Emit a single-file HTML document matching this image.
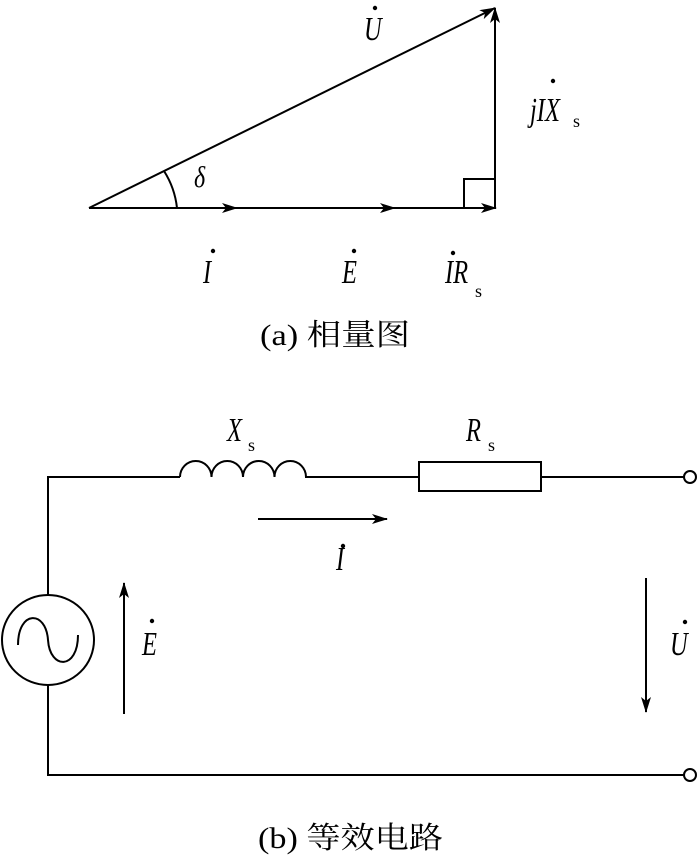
<!DOCTYPE html>
<html><head><meta charset="utf-8"><style>
html,body{margin:0;padding:0;background:#fff;}
svg{display:block}
</style></head><body>
<svg width="700" height="856" viewBox="0 0 700 856" xmlns="http://www.w3.org/2000/svg" font-family="Liberation Serif, Noto Serif CJK SC, serif">
<defs>
<marker id="a" viewBox="0 0 16 10" refX="15" refY="5" markerWidth="16" markerHeight="10" markerUnits="userSpaceOnUse" orient="auto">
<path d="M0,0 L16,5 L0,10 L4,5 Z" fill="#000"/></marker>
</defs>
<g stroke="#000" stroke-width="2" fill="none">
<line x1="89" y1="208" x2="237" y2="208" marker-end="url(#a)"/>
<line x1="235" y1="208" x2="395" y2="208" marker-end="url(#a)"/>
<line x1="393" y1="208" x2="496" y2="208" marker-end="url(#a)"/>
<line x1="495" y1="208" x2="495" y2="8" marker-end="url(#a)"/>
<line x1="89" y1="208" x2="495" y2="8" marker-end="url(#a)"/>
<polyline points="464,208 464,179 495,179"/>
<path d="M164,171 A86,86 0 0 1 177,208"/>
<polyline points="48,595 48,477 180,477"/>
<path d="M180,477 a15.75,16 0 0 1 31.5,0 a15.75,16 0 0 1 31.5,0 a15.75,16 0 0 1 31.5,0 a15.75,16 0 0 1 31.5,0"/>
<line x1="305" y1="477" x2="419" y2="477"/>
<rect x="419" y="462" width="122" height="29"/>
<line x1="541" y1="477" x2="684" y2="477"/>
<circle cx="690" cy="477" r="6"/>
<polyline points="48,685 48,775 684,775"/>
<circle cx="690" cy="775" r="6"/>
<ellipse cx="48" cy="640" rx="46" ry="45"/>
<path d="M18,645 C18,610 46,610 48,640 C50,670 78,670 78,635"/>
<line x1="258" y1="519" x2="387" y2="519" marker-end="url(#a)"/>
<line x1="124" y1="714" x2="124" y2="583" marker-end="url(#a)"/>
<line x1="646" y1="578" x2="646" y2="712" marker-end="url(#a)"/>
</g>
<g fill="#000">
<circle cx="375" cy="8" r="2.2"/>
<circle cx="553" cy="81" r="2.2"/>
<circle cx="213" cy="251" r="2.2"/>
<circle cx="354" cy="251" r="2.2"/>
<circle cx="453" cy="253" r="2.2"/>
<circle cx="343" cy="546" r="2.2"/>
<circle cx="152" cy="621" r="2.2"/>
<circle cx="685" cy="622" r="2.2"/>
</g>
<g fill="#000" font-style="italic" font-size="34">
<text transform="translate(364,40) scale(0.72,1)">U</text>
<text transform="translate(194,187) scale(0.8,1)" font-size="30">δ</text>
<text transform="translate(530,121) scale(0.72,1)">jIX</text>
<text transform="translate(203,283) scale(0.72,1)">I</text>
<text transform="translate(342,283) scale(0.72,1)">E</text>
<text transform="translate(445,283) scale(0.72,1)">IR</text>
<text transform="translate(227,441) scale(0.72,1)">X</text>
<text transform="translate(466,441) scale(0.72,1)">R</text>
<text transform="translate(336,570) scale(0.72,1)">I</text>
<text transform="translate(142,655) scale(0.72,1)">E</text>
<text transform="translate(670,655) scale(0.72,1)">U</text>
</g>
<g fill="#000" font-size="18">
<text x="573" y="127">s</text>
<text x="475" y="297">s</text>
<text x="248" y="451">s</text>
<text x="488" y="451">s</text>
</g>
<g fill="#000" font-size="30">
<text x="260" y="345" textLength="150" lengthAdjust="spacingAndGlyphs">(a) 相量图</text>
<text x="258" y="848" textLength="185" lengthAdjust="spacingAndGlyphs">(b) 等效电路</text>
</g>
</svg>
</body></html>
